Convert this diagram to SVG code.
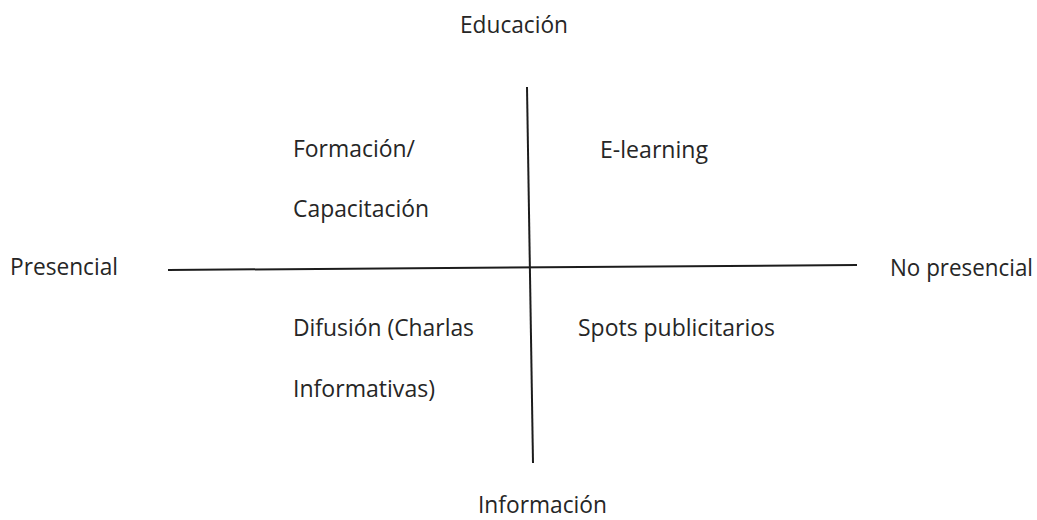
<svg xmlns="http://www.w3.org/2000/svg" width="1037" height="520" viewBox="0 0 1037 520">
<style>
text{font-family:"Open Sans","Liberation Sans",sans-serif;font-size:23px;fill:#262626}
.ax{stroke:#1c1c1c;stroke-width:2;fill:none;stroke-linecap:butt}
</style>
<rect width="1037" height="520" fill="#fff"/>
<g id="connectors">
<line class="ax" x1="168" y1="270" x2="857" y2="265"/>
<line class="ax" x1="527" y1="87" x2="533" y2="463"/>
</g>
<g id="educacion"><text x="460" y="33" textLength="108" lengthAdjust="spacingAndGlyphs">Educación</text></g>
<g id="informacion"><text x="478" y="513" textLength="129" lengthAdjust="spacingAndGlyphs">Información</text></g>
<g id="presencial"><text x="10" y="275" textLength="108" lengthAdjust="spacingAndGlyphs">Presencial</text></g>
<g id="no-presencial"><text x="890" y="276" textLength="143" lengthAdjust="spacingAndGlyphs">No presencial</text></g>
<g id="formacion">
<text x="293" y="157" textLength="122" lengthAdjust="spacingAndGlyphs">Formación/</text>
<text x="293" y="217" textLength="136" lengthAdjust="spacingAndGlyphs">Capacitación</text>
</g>
<g id="elearning"><text x="600" y="158" textLength="108" lengthAdjust="spacingAndGlyphs">E-learning</text></g>
<g id="difusion">
<text x="293" y="336" textLength="181" lengthAdjust="spacingAndGlyphs">Difusión (Charlas</text>
<text x="293" y="397" textLength="142" lengthAdjust="spacingAndGlyphs">Informativas)</text>
</g>
<g id="spots"><text x="578" y="336" textLength="197" lengthAdjust="spacingAndGlyphs">Spots publicitarios</text></g>
</svg>
